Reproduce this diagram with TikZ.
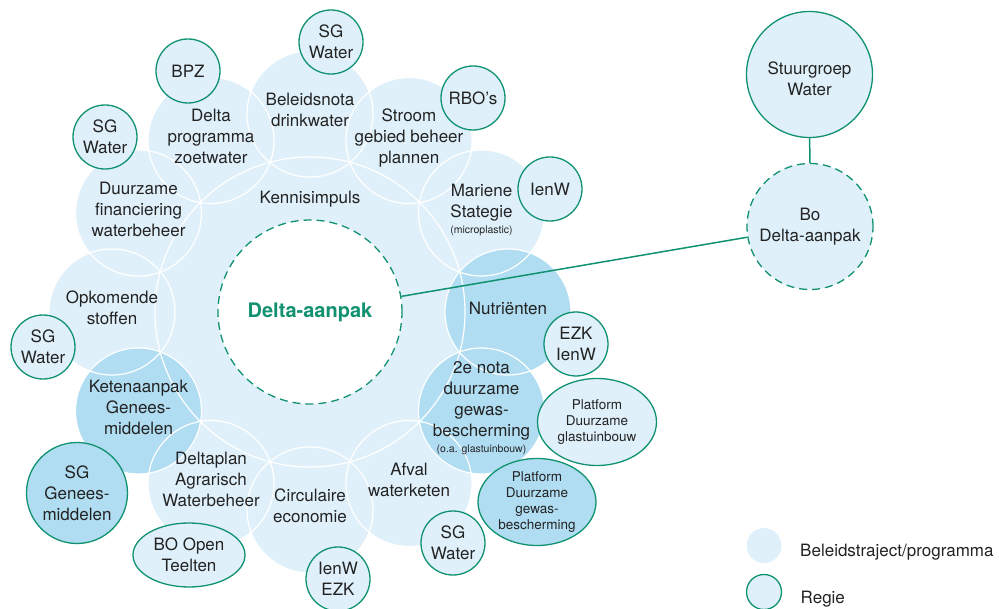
\documentclass[tikz,border=0pt]{standalone}
\usepackage{fontspec}
\setmainfont{TeX Gyre Heros}
\usetikzlibrary{shapes.geometric,positioning}
\definecolor{pale}{RGB}{223,240,250}
\definecolor{deep}{RGB}{176,221,242}
\definecolor{regiegreen}{RGB}{16,146,112}
\definecolor{ink}{RGB}{35,35,35}
\pgfdeclarelayer{fills}
\pgfdeclarelayer{rims}
\pgfsetlayers{fills,rims,main}
\newcommand{\smalltxt}{\fontsize{10.5}{12}\selectfont}

\begin{document}
\begin{tikzpicture}[x=1pt, y=-1pt,
    plain/.style={align=center, font=\fontsize{17}{21}\selectfont, text=ink},
    ring/.style={plain, circle, minimum size=126pt, inner sep=0pt, text depth=8pt},
    regie/.style={plain, circle, draw=regiegreen, line width=1.3pt, fill=pale, minimum size=64pt, inner sep=0pt},
    platform/.style={ellipse, draw=regiegreen, line width=1.3pt, fill=pale, minimum width=119pt, minimum height=87pt, inner sep=0pt, align=center, font=\fontsize{13.5}{16}\selectfont, text=ink},
    dashring/.style={draw=regiegreen, line width=1.3pt, dash pattern=on 8pt off 5pt},
    rim/.style={draw=white, line width=1.2pt},
    link/.style={draw=regiegreen, line width=1.5pt},
    legend/.style={plain, anchor=west, yshift=-7pt}]
    \useasboundingbox (0,0) rectangle (999,609);
    \clip (0,0) rectangle (999,609);

    \node[ring] (beleid) at (310,114) {Beleidsnota\\drinkwater};
    \node[ring] (zoet) at (211,140.5) {Delta\\programma\\zoetwater};
    \node[ring] (stroom) at (409,140.5) {Stroom\\gebied beheer\\plannen};
    \node[ring] (finan) at (138.5,213) {Duurzame\\financiering\\waterbeheer};
    \node[ring] (marien) at (481.5,213) {Mariene\\Stategie\\[-5pt]{\smalltxt(microplastic)}};
    \node[ring] (opkom) at (112,312) {Opkomende\\stoffen};
    \node[ring] (nutri) at (508,312) {Nutriënten};
    \node[ring] (keten) at (138.5,411) {Ketenaanpak\\Genees-\\middelen};
    \node[ring] (nota) at (481.5,411) {2e nota\\duurzame\\gewas-\\bescherming\\[-5pt]{\smalltxt(o.a. glastuinbouw)}};
    \node[ring] (agrar) at (211,483.5) {Deltaplan\\Agrarisch\\Waterbeheer};
    \node[ring] (afval) at (409,483.5) {Afval\\waterketen};
    \node[ring] (circu) at (310,510) {Circulaire\\economie};
    \node[plain] (kennis) at (310,199) {Kennisimpuls};

    \node[circle, minimum size=184pt, fill=white, dashring, font=\bfseries\fontsize{20}{24}\selectfont, text=regiegreen] (delta) at (310,312) {Delta-aanpak};

    \begin{pgfonlayer}{fills}
        \fill[pale] (delta) circle (155);
        \foreach \n in {beleid,zoet,stroom,finan,marien,opkom,agrar,afval,circu}
            \fill[pale] (\n) circle (63);
        \foreach \n in {keten,nutri,nota}
            \fill[deep] (\n) circle (63);
    \end{pgfonlayer}
    \begin{pgfonlayer}{rims}
        \draw[rim] (delta) circle (155);
        \foreach \n in {beleid,zoet,stroom,finan,marien,opkom,nutri,keten,nota,agrar,afval,circu}
            \draw[rim] (\n) circle (63);
    \end{pgfonlayer}

    \node[regie] (sgtop) at (331,42) {SG\\Water};
    \node[regie] (bpz) at (188,71) {BPZ};
    \node[regie] (sgleft) at (105,137) {SG\\Water};
    \node[regie] (rbo) at (473,98) {RBO’s};
    \node[regie] (ienw) at (550,189) {IenW};
    \node[regie] (sgmid) at (43,347) {SG\\Water};
    \node[regie, fill=deep, minimum size=101pt] (sggenees) at (77,493) {SG\\Genees-\\middelen};
    \node[regie, ellipse, minimum width=112pt, minimum height=64pt] (boopen) at (189,555) {BO Open\\Teelten};
    \node[regie] (ienwezk) at (338,579) {IenW\\EZK};
    \node[regie] (ezkienw) at (576,344) {EZK\\IenW};
    \node[platform] (platglas) at (597,422) {Platform\\Duurzame\\glastuinbouw};
    \node[platform, fill=deep, minimum width=118pt] (platgewas) at (537,502) {Platform\\Duurzame\\gewas-\\bescherming};
    \node[regie] (sgbottom) at (453,543) {SG\\Water};

    \node[regie, minimum size=126pt, text height=43pt] (stuur) at (809.5,74.5) {Stuurgroep\\Water};
    \node[regie, minimum size=126pt, dashring] (bo) at (810,226.5) {Bo\\Delta-aanpak};

    \draw[link] (stuur) -- (bo);
    \draw[link] (delta) -- (bo);

    \node[circle, fill=pale, minimum size=35pt, inner sep=0pt] (legprog) at (764,545.5) {};
    \node[legend, right=15pt of legprog] (legprogtext) {Beleidstraject/programma};
    \node[regie, minimum size=35pt] (legregie) at (764,592) {};
    \node[legend, right=15pt of legregie] (legregietext) {Regie};
\end{tikzpicture}
\end{document}
